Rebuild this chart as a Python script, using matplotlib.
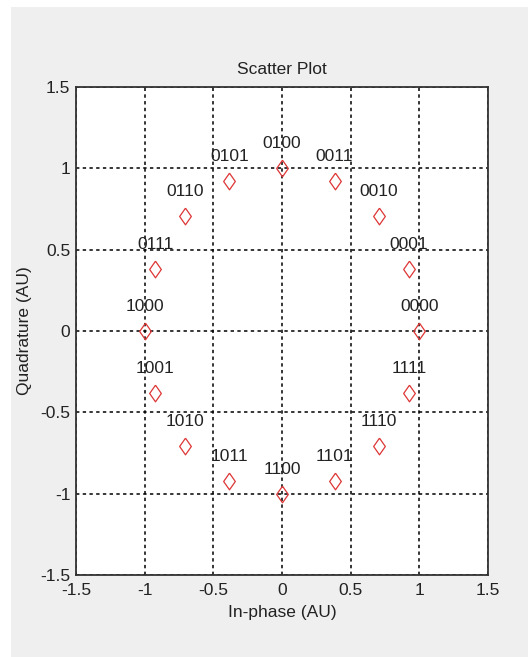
import matplotlib.pyplot as plt
from matplotlib.patches import Rectangle

# 16-PSK constellation points
symbols = ['0000', '0001', '0010', '0011', '0100', '0101', '0110', '0111',
           '1000', '1001', '1010', '1011', '1100', '1101', '1110', '1111']
in_phase = [1.0, 0.9239, 0.7071, 0.3827, 0.0, -0.3827, -0.7071, -0.9239,
            -1.0, -0.9239, -0.7071, -0.3827, 0.0, 0.3827, 0.7071, 0.9239]
quadrature = [0.0, 0.3827, 0.7071, 0.9239, 1.0, 0.9239, 0.7071, 0.3827,
              0.0, -0.3827, -0.7071, -0.9239, -1.0, -0.9239, -0.7071, -0.3827]
ticks = [-1.5, -1, -0.5, 0, 0.5, 1, 1.5]
tick_labels = ['-1.5', '-1', '-0.5', '0', '0.5', '1', '1.5']

plt.rcParams['font.family'] = ['Liberation Sans', 'DejaVu Sans']
plt.rcParams['font.size'] = 12

fig = plt.figure(figsize=(5.28, 6.57), dpi=100, facecolor='white')
# grey matlab-like window area
fig.patches.append(Rectangle((11 / 528, 0), 1, 1 - 7 / 657, transform=fig.transFigure,
                             facecolor='#efefef', edgecolor='none', zorder=-1))

ax = fig.add_axes([0.1439, 0.1248, 0.7803, 0.7428])
ax.set_facecolor('white')
diamond = [(0, 1), (0.7, 0), (0, -1), (-0.7, 0), (0, 1)]
ax.plot(in_phase, quadrature, linestyle='none', marker=diamond, markersize=12,
        markerfacecolor='none', markeredgecolor='#dd3535', markeredgewidth=0.9, zorder=3)
for x, y, s in zip(in_phase, quadrature, symbols):
    ax.text(x, y + 0.15, s, ha='center', va='center', color='#222222', fontsize=12.5)

ax.set_xlim(-1.5, 1.5)
ax.set_ylim(-1.5, 1.5)
ax.set_xticks(ticks)
ax.set_xticklabels(tick_labels)
ax.set_yticks(ticks)
ax.set_yticklabels(tick_labels)
ax.tick_params(length=0, colors='#222222', labelsize=12.5)
ax.tick_params(axis='x', pad=6)
ax.tick_params(axis='y', pad=4)
ax.grid(True, color='black', linestyle=(0, (2.2, 2.2)), linewidth=1.1)
for sp in ax.spines.values():
    sp.set_linewidth(1.3)
    sp.set_color('#333333')

ax.set_title('Scatter Plot', fontsize=12.5, color='#222222', pad=9)
ax.set_xlabel('In-phase (AU)', fontsize=12.5, color='#222222', labelpad=5)
ax.set_ylabel('Quadrature (AU)', fontsize=12.5, color='#222222', labelpad=6)

fig.savefig('out.png', dpi=100)
